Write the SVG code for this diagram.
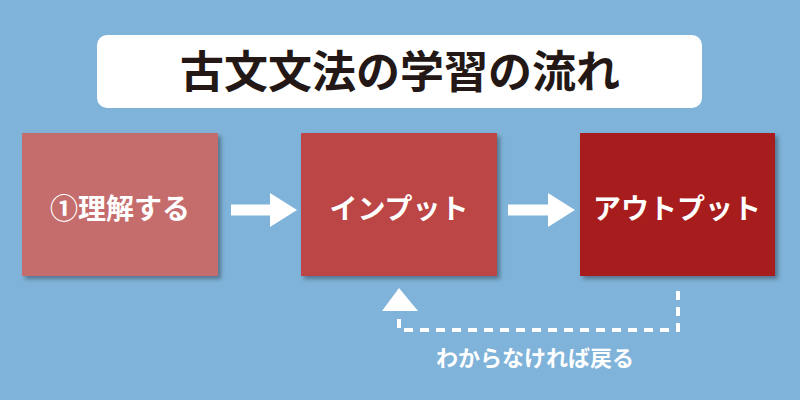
<svg xmlns="http://www.w3.org/2000/svg" width="800" height="400" viewBox="0 0 800 400">
<defs>
<style>
.t{font-family:"Noto Sans CJK JP","Noto Sans",sans-serif;font-weight:bold;fill:#fff;text-anchor:middle}
.dash{fill:none;stroke:#fff;stroke-width:4;stroke-dasharray:9 7}
</style>
<filter id="sh" x="-10%" y="-10%" width="130%" height="130%"><feDropShadow dx="3" dy="3" stdDeviation="2" flood-color="#000" flood-opacity="0.35"/></filter>
</defs>
<rect width="800" height="400" fill="#7fb3d9"/>
<g id="title"><rect x="97" y="35" width="605" height="73" rx="10" fill="#fff"/>
<text x="400" y="88" font-family="Noto Sans CJK JP,sans-serif" font-weight="bold" font-size="44" fill="#231815" text-anchor="middle">古文文法の学習の流れ</text></g>
<g id="n1"><rect x="22" y="133" width="196" height="143" fill="#c56c6c" filter="url(#sh)"/><text class="t" x="120" y="219" font-size="28">①理解する</text></g>
<g id="n2"><rect x="301" y="133" width="196" height="143" fill="#bc4545" filter="url(#sh)"/><text class="t" x="399" y="219" font-size="28">インプット</text></g>
<g id="n3"><rect x="580" y="133" width="195" height="143" fill="#a71a1b" filter="url(#sh)"/><text class="t" x="677" y="219" font-size="28">アウトプット</text></g>
<g id="connectors">
<path d="M231 210H272" stroke="#fff" stroke-width="11"/><polygon points="270,193 297,210 270,227" fill="#fff"/>
<path d="M508 210H550" stroke="#fff" stroke-width="11"/><polygon points="548,193 575,210 548,227" fill="#fff"/>
<path class="dash" d="M678 291V330H399V312"/>
<polygon points="399,288 418,311 382,311" fill="#fff"/>
<text class="t" x="535" y="366" font-size="22">わからなければ戻る</text>
</g>
</svg>
